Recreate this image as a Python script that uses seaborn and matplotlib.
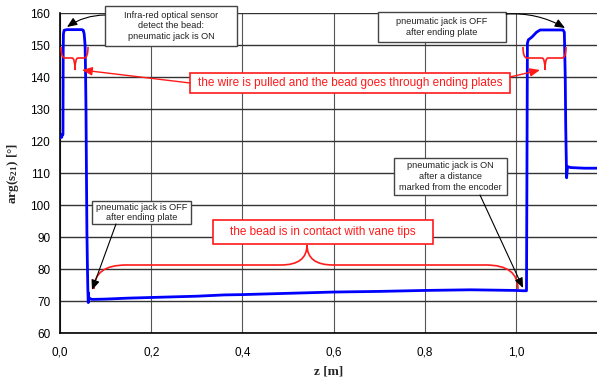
import matplotlib
matplotlib.use("Agg")
import matplotlib.pyplot as plt
import seaborn as sns
import pandas as pd
from matplotlib.path import Path
from matplotlib.patches import PathPatch, Rectangle
from matplotlib.ticker import FuncFormatter

# ---- data ----
z_m = [0.000, 0.004, 0.0045, 0.0065, 0.007, 0.0075, 0.009, 0.015, 0.048, 0.051, 0.053,
       0.055, 0.056, 0.057, 0.058, 0.059, 0.060, 0.061, 0.062, 0.0625, 0.063, 0.065,
       0.070, 0.100, 0.150, 0.200, 0.300, 0.360, 0.400, 0.500, 0.600, 0.700, 0.800,
       0.900, 0.950, 1.000, 1.016, 1.023, 1.024, 1.025, 1.027, 1.035, 1.045, 1.053,
       1.080, 1.103, 1.106, 1.108, 1.109, 1.110, 1.111, 1.113, 1.120, 1.150, 1.180]
phase_deg = [121.0, 121.2, 122.0, 122.0, 148.0, 153.5, 154.6, 154.8, 154.8, 154.6, 153.5,
             150.0, 142.0, 130.0, 110.0, 92.0, 82.0, 74.0, 69.5, 72.5, 71.2, 70.8,
             70.5, 70.6, 70.9, 71.1, 71.5, 71.9, 72.0, 72.4, 72.8, 73.0, 73.3,
             73.5, 73.4, 73.3, 73.2, 73.2, 110.0, 150.5, 151.6, 152.5, 154.0, 154.7,
             154.7, 154.7, 154.0, 140.0, 125.0, 116.5, 108.5, 112.0, 111.7, 111.5, 111.5]

x_ticks = [0.0, 0.2, 0.4, 0.6, 0.8, 1.0]
y_ticks = [60, 70, 80, 90, 100, 110, 120, 130, 140, 150, 160]

sns.set_style("white")
plt.rcParams["font.family"] = ["Liberation Sans", "DejaVu Sans"]
plt.rcParams["mathtext.fontset"] = "custom"
plt.rcParams["mathtext.rm"] = "Liberation Serif:bold"
plt.rcParams["mathtext.default"] = "rm"

W, H = 597, 379
fig = plt.figure(figsize=(W / 100, H / 100), dpi=100)
L, R, T, B = 60, 597, 13, 333
ax = fig.add_axes([L / W, 1 - B / H, (R - L) / W, (B - T) / H])

df = pd.DataFrame({"z": z_m, "phase": phase_deg})
sns.lineplot(data=df, x="z", y="phase", sort=False, estimator=None,
             color="#0000ff", lw=2.0, ax=ax, zorder=3)

ax.set_xlim(0, (R - L) / 456)
ax.set_ylim(60, 160)
ax.set_xticks(x_ticks)
ax.set_yticks(y_ticks)
ax.xaxis.set_major_formatter(FuncFormatter(lambda v, p: f"{v:.1f}".replace(".", ",")))
ax.tick_params(axis="both", labelsize=8.5, direction="out", length=4, width=0.8,
               colors="black", pad=3)
ax.tick_params(axis="x", pad=6)
ax.grid(True, axis="y", color="#333333", lw=1.0)
ax.grid(True, axis="x", color="#555555", lw=0.8)
ax.set_axisbelow(True)
for s in ["top", "right"]:
    ax.spines[s].set_visible(False)
for s in ["left", "bottom"]:
    ax.spines[s].set_color("black")
    ax.spines[s].set_linewidth(1.2)

ax.set_xlabel("z [m]", fontfamily="Liberation Serif", fontweight="bold", fontsize=9.5,
              labelpad=5)
ax.set_ylabel(r"arg(s$_{21}$) [°]", fontfamily="Liberation Serif", fontweight="bold",
              fontsize=9.5, labelpad=7)


def zx(px):
    return (px - 60) / 456.0


def vy(py):
    return 60 + (333 - py) / 3.2


def P(px, py):
    return (zx(px), vy(py))


def brace(x0, x1, ye, yf, yt, xt, r, r2, **kw):
    verts = [P(x0, ye), P(x0, yf), P(x0 + r, yf), P(xt - r2, yf), P(xt, yf), P(xt, yt),
             P(xt, yf), P(xt + r2, yf), P(x1 - r, yf), P(x1, yf), P(x1, ye)]
    codes = [Path.MOVETO, Path.CURVE3, Path.CURVE3, Path.LINETO, Path.CURVE3, Path.CURVE3,
             Path.CURVE3, Path.CURVE3, Path.LINETO, Path.CURVE3, Path.CURVE3]
    ax.add_patch(PathPatch(Path(verts, codes), fill=False, clip_on=False, **kw))


red = "#ff1a1a"
brace(61, 88, 47, 58, 70, 75, 4, 3, ec=red, lw=1.2, zorder=5)
brace(523, 566, 47, 58, 70, 545, 4, 3, ec=red, lw=1.2, zorder=5)
brace(94, 518, 289, 265, 245, 307, 32, 26, ec=red, lw=1.2, zorder=5)


def box(x0, x1, y0, y1, text, ec, tc, fs, lw):
    ax.add_patch(Rectangle(P(x0, y1), zx(x1) - zx(x0), vy(y0) - vy(y1), fc="white",
                           ec=ec, lw=lw, clip_on=False, zorder=6))
    ax.text(zx((x0 + x1) / 2), vy((y0 + y1) / 2), text, ha="center", va="center",
            color=tc, fontsize=fs, zorder=7, linespacing=1.25, clip_on=False)


def arrow(p0, p1, color, rad=0.0, lw=0.8):
    ax.annotate("", xy=P(*p1), xytext=P(*p0),
                arrowprops=dict(arrowstyle="-|>,head_length=0.6,head_width=0.25",
                                color=color, lw=lw, shrinkA=0, shrinkB=0,
                                connectionstyle=f"arc3,rad={rad}"),
                zorder=8, annotation_clip=False)


box(105, 237, 6, 46, "Infra-red optical sensor\ndetect the bead:\npneumatic jack is ON",
    "#444444", "#222222", 6.6, 1.0)
box(378, 506, 12, 42, "pneumatic jack is OFF\nafter ending plate", "#444444", "#222222", 6.6, 1.0)
box(92, 191, 201, 224, "pneumatic jack is OFF\nafter ending plate", "#444444", "#222222", 6.6, 1.0)
box(394, 507, 158, 195, "pneumatic jack is ON\nafter a distance\nmarked from the encoder",
    "#444444", "#222222", 6.6, 1.0)

box(190, 510, 73, 93, "the wire is pulled and the bead goes through ending plates",
    red, red, 8.5, 1.2)
box(213, 433, 220, 244, "the bead is in contact with vane tips", red, red, 8.5, 1.2)

arrow((105, 15), (67, 27), "black", rad=0.15)
arrow((506, 14), (565, 28), "black", rad=-0.15)
arrow((116, 224), (92, 290), "black")
arrow((480, 195), (523, 288), "black")
arrow((190, 83), (82, 70), red, lw=1.0)
arrow((510, 77), (540, 70), red, lw=1.0)

fig.savefig("out.png", dpi=100)
